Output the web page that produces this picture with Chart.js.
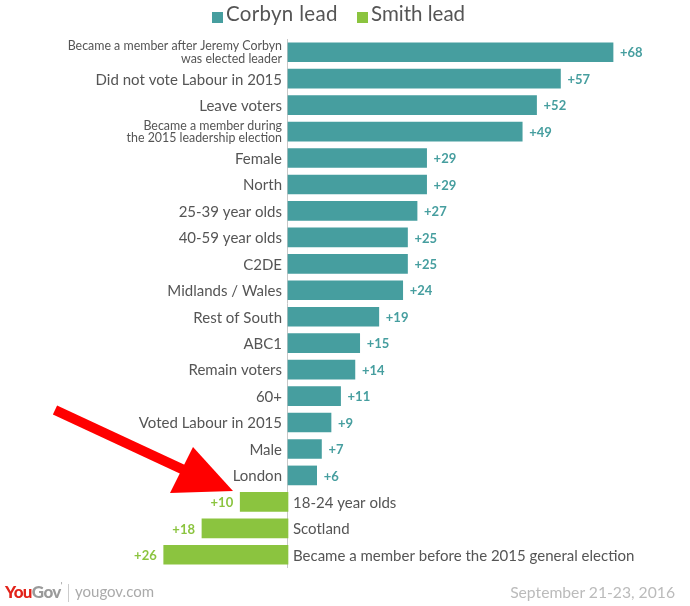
<!DOCTYPE html>
<html><head><meta charset="utf-8">
<script src="https://cdn.jsdelivr.net/npm/chart.js@4.4.1/dist/chart.umd.min.js"></script>
<style>
html,body{margin:0;padding:0;background:#fff;}
#wrap{position:relative;width:690px;height:606px;overflow:hidden;font-family:Lato,"Open Sans",sans-serif;}
#wrap canvas{position:absolute;left:0;top:0;}
.abs{position:absolute;white-space:nowrap;}
.sq{position:absolute;width:11px;height:11px;}
</style>
</head><body>
<div id="wrap">
<canvas id="c" width="690" height="606"></canvas>
<div class="sq" style="left:212px;top:12px;background:#469e9f"></div>
<div class="abs" id="l1" style="left:226px;top:1px;font-size:20.5px;color:#555;letter-spacing:0.3px;"></div>
<div class="sq" style="left:357px;top:12px;background:#8bc43f"></div>
<div class="abs" id="l2" style="left:371px;top:1px;font-size:20.5px;color:#555;"></div>
<div class="abs" style="left:5px;top:581px;font-size:17px;font-weight:900;letter-spacing:-0.6px;"><span style="color:#e2231a">You</span><span style="color:#9a9a9a">Gov</span><span style="color:#9a9a9a;font-size:7px;vertical-align:top;">’</span></div>
<div class="abs" style="left:68px;top:584px;width:1px;height:18px;background:#ccc;"></div>
<div class="abs" style="left:75px;top:582px;font-size:15px;color:#aaa;">yougov.com</div>
<div class="abs" style="right:15px;top:583px;font-size:15.7px;color:#bbb;">September 21-23, 2016</div>
</div>
<script>
const categories = [
  ["Became a member after Jeremy Corbyn", "was elected leader"],
  "Did not vote Labour in 2015",
  "Leave voters",
  ["Became a member during", "the 2015 leadership election"],
  "Female",
  "North",
  "25-39 year olds",
  "40-59 year olds",
  "C2DE",
  "Midlands / Wales",
  "Rest of South",
  "ABC1",
  "Remain voters",
  "60+",
  "Voted Labour in 2015",
  "Male",
  "London",
  "18-24 year olds",
  "Scotland",
  "Became a member before the 2015 general election"
];
const seriesNames = ["Corbyn lead", "Smith lead"];
const corbynLead = [68, 57, 52, 49, 29, 29, 27, 25, 25, 24, 19, 15, 14, 11, 9, 7, 6, null, null, null];
const smithLead  = [null, null, null, null, null, null, null, null, null, null, null, null, null, null, null, null, null, 10, 18, 26];

const TEAL = "#469e9f", GREEN = "#8bc43f";
document.getElementById("l1").textContent = seriesNames[0];
document.getElementById("l2").textContent = seriesNames[1];

const labelPlugin = {
  id: "labels",
  beforeDatasetsDraw(chart) {
    const ctx = chart.ctx, xs = chart.scales.x, a = chart.chartArea;
    const x0 = Math.round(xs.getPixelForValue(0)) - 0.5;
    ctx.save();
    ctx.strokeStyle = "#c8c8c8"; ctx.lineWidth = 1;
    ctx.beginPath(); ctx.moveTo(x0, a.top); ctx.lineTo(x0, a.bottom); ctx.stroke();
    ctx.restore();
  },
  afterDatasetsDraw(chart) {
    const ctx = chart.ctx, xs = chart.scales.x, ys = chart.scales.y;
    const x0 = xs.getPixelForValue(0);
    ctx.save();
    ctx.textBaseline = "middle";
    categories.forEach((cat, i) => {
      const y = ys.getPixelForValue(i);
      const isC = corbynLead[i] != null;
      ctx.fillStyle = "#555";
      ctx.textAlign = isC ? "right" : "left";
      const lx = isC ? x0 - 6 : x0 + 5;
      if (Array.isArray(cat)) {
        ctx.font = "12.4px Lato, sans-serif";
        ctx.fillText(cat[0], lx, y - 6);
        ctx.fillText(cat[1], lx, y + 6.5);
      } else {
        ctx.font = "15px Lato, sans-serif";
        ctx.fillText(cat, lx, y + 1);
      }
      ctx.font = "bold 13px Lato, sans-serif";
      if (isC) {
        ctx.fillStyle = TEAL; ctx.textAlign = "left";
        ctx.fillText("+" + corbynLead[i], xs.getPixelForValue(corbynLead[i]) + 7, y + 1);
      } else {
        ctx.fillStyle = GREEN; ctx.textAlign = "right";
        ctx.fillText("+" + smithLead[i], xs.getPixelForValue(-smithLead[i]) - 7, y + 1);
      }
    });
    // red annotation arrow
    ctx.fillStyle = "#ff0000"; ctx.strokeStyle = "#ff0000";
    ctx.lineWidth = 10; ctx.lineCap = "butt";
    ctx.beginPath(); ctx.moveTo(55, 410); ctx.lineTo(184, 470); ctx.stroke();
    ctx.beginPath(); ctx.moveTo(233, 491); ctx.lineTo(193, 447); ctx.lineTo(170, 493); ctx.closePath(); ctx.fill();
    ctx.restore();
  }
};

new Chart(document.getElementById("c"), {
  type: "bar",
  data: {
    labels: categories,
    datasets: [
      { label: seriesNames[0], data: corbynLead, backgroundColor: TEAL, barThickness: 19 },
      { label: seriesNames[1], data: smithLead.map(v => v == null ? null : -v), backgroundColor: GREEN, barThickness: 19 }
    ]
  },
  options: {
    indexAxis: "y",
    responsive: false,
    animation: false,
    layout: { padding: { top: 39, bottom: 38, left: 0, right: 0 } },
    scales: {
      x: { type: "linear", min: -60.25, max: 84.1, display: false, stacked: true },
      y: { display: false, stacked: true }
    },
    plugins: { legend: { display: false }, tooltip: { enabled: false } }
  },
  plugins: [labelPlugin]
});
</script>
</body></html>
